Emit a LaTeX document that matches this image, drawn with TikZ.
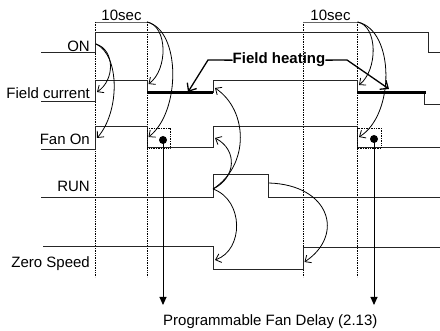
\documentclass[tikz,border=0pt]{standalone}
\usepackage{fontspec}
\setmainfont{Liberation Sans}
\usetikzlibrary{arrows.meta}
\begin{document}
\begin{tikzpicture}[x=1pt,y=-1pt,
  sig/.style={line width=1pt, line join=miter, draw=black!85},
  heat/.style={line width=3pt, draw=black},
  guide/.style={densely dotted, line width=0.7pt},
  bracket/.style={line width=0.6pt, draw=black!60},
  cause/.style={line width=0.8pt, -{Straight Barb[length=5pt,width=9pt]}},
  fharrow/.style={line width=1.3pt, -{Straight Barb[length=6.5pt,width=11pt]}},
  delay/.style={line width=1pt, -{Triangle[length=8pt,width=7pt]}},
  lbl/.style={font=\fontsize{15}{18}\selectfont, inner sep=0pt},
  boldlbl/.style={font=\fontsize{15}{18}\selectfont\bfseries, inner sep=0pt},
  dotbox/.style={densely dotted, line width=0.7pt}]
\useasboundingbox (0,0) rectangle (440,331);

% --- guides (dotted verticals) and 10sec brackets
\draw[guide] (95.5,22) -- (95.5,277);
\draw[guide] (147,22) -- (147,277);
\draw[guide] (303,22) -- (303,277);
\draw[guide] (357.5,22) -- (357.5,277);
\draw[bracket] (95.5,22) coordinate (ba) -- (147,22) coordinate (bb);
\draw[bracket] (303,22) coordinate (bc) -- (357.5,22) coordinate (bd);
\node[lbl, anchor=base] (t1) at (121.5,21) {10sec};
\node[lbl, anchor=base] (t2) at (330.5,21) {10sec};

% --- labels
\node[lbl, anchor=base east] (lon) at (90,52) {ON};
\node[lbl, anchor=base east] (lfc) at (90,99) {Field current};
\node[lbl, anchor=base east] (lfan) at (90,145) {Fan On};
\node[lbl, anchor=base east] (lrun) at (90,192) {RUN};
\node[lbl, anchor=base east] (lzs) at (90,268) {Zero Speed};

% --- signals
\draw[sig] (41,53) -- (95.5,53) -- (95.5,33) -- (428,33) -- (428,53) -- (440,53);
\draw[sig] (41,102) -- (95.5,102) -- (95.5,81) -- (147,81) -- (147,93) -- (213,93)
   -- (213,81) -- (357.5,81) -- (357.5,93) -- (424.5,93) -- (424.5,105) -- (440,105);
\draw[heat] (147,93) -- (213,93);
\draw[heat] (357,93) -- (425.5,93);
\draw[sig] (41,150) -- (95.5,150) -- (95.5,127) -- (147,127) -- (147,148) -- (213,148)
   -- (213,127) -- (357.5,127) -- (357.5,148) -- (440,148);
\draw[sig] (41,198) -- (213,198) -- (213,175) -- (268,175) -- (268,198) -- (440,198);
\draw[sig] (43,247) -- (213,247) -- (213,270) -- (303.5,270) -- (303.5,247.5) -- (440,247.5);

% --- fan delay boxes and dots
\draw[dotbox] (147,128) rectangle (170,148);
\draw[dotbox] (357.5,128) rectangle (381,148);
\fill (163,140) circle (4) coordinate (d1);
\fill (374,139) circle (4) coordinate (d2);
\coordinate (d1end) at (163,305);
\coordinate (d2end) at (374,305);
\draw[delay] (d1) -- (d1end);
\draw[delay] (d2) -- (d2end);
\node[lbl, anchor=base west] (pfd) at (163,326) {Programmable Fan Delay (2.13)};

% --- cause/effect curves
\coordinate (onr) at (96,44);
\coordinate (fcr) at (97,92);
\coordinate (fanr) at (97,138);
\coordinate (fcf) at (148.5,84);
\coordinate (fanf) at (148.5,137);
\draw[cause] (onr) .. controls (115,50) and (115,80) .. (fcr);
\draw[cause] (onr) .. controls (120,55) and (120,112) .. (fanr);
\draw[cause] (bb) .. controls (168,26) and (168,70) .. (fcf);
\draw[cause] (bb) .. controls (181,30) and (181,112) .. (fanf);

\coordinate (runr) at (213,189);
\coordinate (fcr2) at (215,88);
\coordinate (fanr2) at (215,138);
\coordinate (zsf) at (215,260);
\draw[cause] (runr) .. controls (250,165) and (248,110) .. (fcr2);
\draw[cause] (runr) .. controls (236,178) and (238,150) .. (fanr2);
\draw[cause] (runr) .. controls (244,200) and (244,250) .. (zsf);

\coordinate (runf) at (269,183);
\coordinate (zsr) at (304.5,262);
\draw[cause] (runf) .. controls (330,185) and (345,235) .. (zsr);

\coordinate (fcf2) at (359,85);
\coordinate (fanf2) at (359,137);
\draw[cause] (bd) .. controls (378,26) and (378,70) .. (fcf2);
\draw[cause] (bd) .. controls (395,30) and (395,115) .. (fanf2);

% --- Field heating callout
\node[boldlbl, anchor=base] (fh) at (279,64) {Field heating};
\coordinate (fhlk) at (208,60);
\coordinate (fhltip) at (188,92);
\coordinate (fhrk) at (347,60);
\coordinate (fhrtip) at (389,89);
\draw[fharrow] (fh.west) -- (fhlk) -- (fhltip);
\draw[fharrow] (fh.east) -- (fhrk) -- (fhrtip);
\end{tikzpicture}
\end{document}
